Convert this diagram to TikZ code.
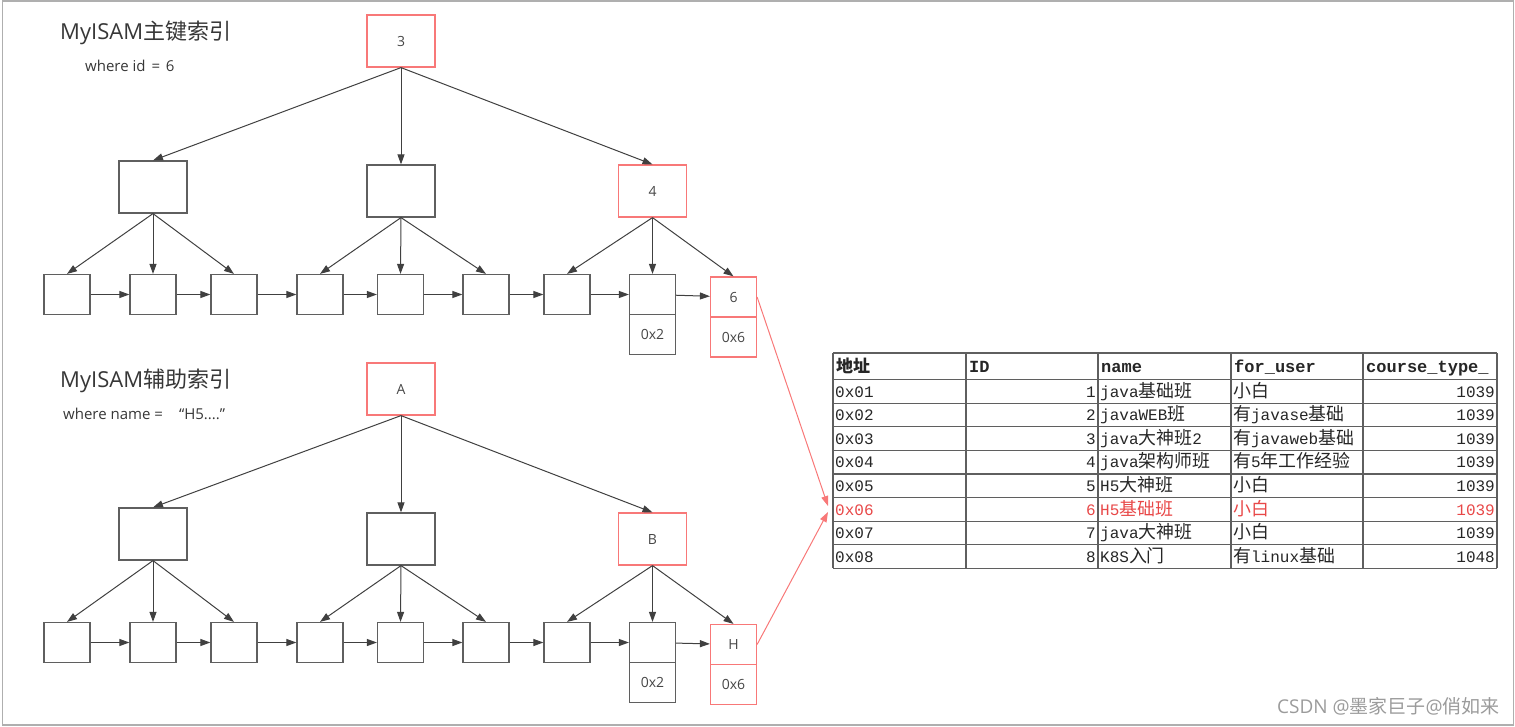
\documentclass[tikz,border=0pt]{standalone}
\usepackage{fontspec}
\setmainfont{Open Sans}
\newfontfamily\cjk{Noto Sans CJK SC}
\newfontfamily\tabmono{Liberation Mono}
\newfontfamily\tabcjk[Scale=1.12]{Noto Sans CJK SC}
\usetikzlibrary{arrows.meta,positioning}

\definecolor{linegray}{RGB}{95,95,95}
\definecolor{arrowgray}{RGB}{64,64,64}
\definecolor{hitred}{RGB}{248,120,120}
\definecolor{rowred}{RGB}{232,72,72}
\definecolor{labelgray}{RGB}{70,70,70}
\definecolor{titlegray}{RGB}{55,55,55}
\definecolor{tabgray}{RGB}{95,95,95}
\definecolor{framegray}{RGB}{175,175,175}
\definecolor{markgray}{RGB}{155,155,155}

\newcommand{\cj}[1]{{\tabcjk #1}}

\tikzset{
  idxbox/.style={draw=linegray, line width=1.2pt, minimum width=68pt, minimum height=52pt,
    inner sep=0pt, text=labelgray, font=\fontsize{14}{16}\selectfont},
  hitbox/.style={idxbox, draw=hitred},
  leafbox/.style={draw=linegray, line width=1.2pt, minimum width=46pt, minimum height=40pt,
    inner sep=0pt, text=labelgray, font=\fontsize{14}{16}\selectfont},
  hitleaf/.style={leafbox, draw=hitred},
  link/.style={draw=arrowgray, line width=1pt, -{Triangle[length=10pt,width=7pt]}},
  hitlink/.style={draw=hitred, line width=1pt, -{Triangle[length=10pt,width=7pt]}},
  title/.style={anchor=west, inner sep=0pt, text=titlegray, font=\fontsize{22}{24}\selectfont},
  cond/.style={anchor=west, inner sep=0pt, text=titlegray, font=\fontsize{15}{17}\selectfont},
  cell/.style={inner sep=0pt, text height=11pt, text depth=3pt, text=black!85,
    font=\fontsize{16}{18}\selectfont\tabmono},
  headcell/.style={cell, anchor=west, font=\fontsize{17}{18}\selectfont\tabmono\bfseries},
  tabline/.style={draw=tabgray, line width=1.2pt}
}

\begin{document}
\begin{tikzpicture}[x=1pt, y=-1pt]
\useasboundingbox (0,0) rectangle (1515,726);

% Frame
\draw[framegray, line width=1.5pt] (2.5,0.75) rectangle (1513.5,725);

% Primary key index
\node[title] (ttlpk) at (60,33) {MyISAM{\cjk 主键索引}};
\node[cond] (condpk) at (85,66) {where id\hspace{2pt} =\hspace{2pt} 6};

\node[hitbox] (p3) at (401,41) {3};
\node[idxbox] (pl) at (153,187) {};
\node[idxbox] (pm) at (401,191) {};
\node[hitbox] (p4) at (652.5,191) {4};

\node[leafbox] (pa1) at (67,294.5) {};
\node[leafbox] (pa2) at (153,294.5) {};
\node[leafbox] (pa3) at (234,294.5) {};
\node[leafbox] (pa4) at (320,294.5) {};
\node[leafbox] (pa5) at (400.5,294.5) {};
\node[leafbox] (pa6) at (486,294.5) {};
\node[leafbox] (pa7) at (567,294.5) {};
\node[leafbox] (pa8) at (652.5,294.5) {};
\node[leafbox, below=-1.2pt of pa8] (pa8r) {0x2};
\node[hitleaf] (pa9) at (733.5,297) {6};
\node[hitleaf, below=-1.2pt of pa9] (pa9r) {0x6};

\draw[link] (p3.south) -- (pl.north);
\draw[link] (p3.south) -- (pm.north);
\draw[link] (p3.south) -- (p4.north);
\draw[link] (pl.south) -- (pa1.north);
\draw[link] (pl.south) -- (pa2.north);
\draw[link] (pl.south) -- (pa3.north);
\draw[link] (pm.south) -- (pa4.north);
\draw[link] (pm.south) -- (pa5.north);
\draw[link] (pm.south) -- (pa6.north);
\draw[link] (p4.south) -- (pa7.north);
\draw[link] (p4.south) -- (pa8.north);
\draw[link] (p4.south) -- (pa9.north);
\draw[link] (pa1) -- (pa2);
\draw[link] (pa2) -- (pa3);
\draw[link] (pa3) -- (pa4);
\draw[link] (pa4) -- (pa5);
\draw[link] (pa5) -- (pa6);
\draw[link] (pa6) -- (pa7);
\draw[link] (pa7) -- (pa8);
\draw[link] (pa8) -- (pa9);

% Secondary index
\node[title] (ttlsk) at (60,381) {MyISAM{\cjk 辅助索引}};
\node[cond] (condsk) at (63,414) {where name =\hspace{16pt}“H5....”};

\node[hitbox] (sA) at (401,389) {A};
\node[idxbox] (sl) at (153,534) {};
\node[idxbox] (sm) at (401,539) {};
\node[hitbox] (sB) at (652.5,539) {B};

\node[leafbox] (sa1) at (67,642.5) {};
\node[leafbox] (sa2) at (153,642.5) {};
\node[leafbox] (sa3) at (234,642.5) {};
\node[leafbox] (sa4) at (320,642.5) {};
\node[leafbox] (sa5) at (400.5,642.5) {};
\node[leafbox] (sa6) at (486,642.5) {};
\node[leafbox] (sa7) at (567,642.5) {};
\node[leafbox] (sa8) at (652.5,642.5) {};
\node[leafbox, below=-1.2pt of sa8] (sa8r) {0x2};
\node[hitleaf] (sa9) at (733.5,644.5) {H};
\node[hitleaf, below=-1.2pt of sa9] (sa9r) {0x6};

\draw[link] (sA.south) -- (sl.north);
\draw[link] (sA.south) -- (sm.north);
\draw[link] (sA.south) -- (sB.north);
\draw[link] (sl.south) -- (sa1.north);
\draw[link] (sl.south) -- (sa2.north);
\draw[link] (sl.south) -- (sa3.north);
\draw[link] (sm.south) -- (sa4.north);
\draw[link] (sm.south) -- (sa5.north);
\draw[link] (sm.south) -- (sa6.north);
\draw[link] (sB.south) -- (sa7.north);
\draw[link] (sB.south) -- (sa8.north);
\draw[link] (sB.south) -- (sa9.north);
\draw[link] (sa1) -- (sa2);
\draw[link] (sa2) -- (sa3);
\draw[link] (sa3) -- (sa4);
\draw[link] (sa4) -- (sa5);
\draw[link] (sa5) -- (sa6);
\draw[link] (sa6) -- (sa7);
\draw[link] (sa7) -- (sa8);
\draw[link] (sa8) -- (sa9);

% Table
\foreach \x in {833,966,1098,1231,1363,1497}
  \draw[tabline] (\x,353) -- (\x,568.3);
\draw[tabline] (833,353) -- (1497,353);
\foreach \r in {0,...,8}
  \draw[tabline] (833,379.5+23.6*\r) -- (1497,379.5+23.6*\r);

\node[headcell] (haddr) at (836,368) {{\cjk\bfseries 地址}};
\node[headcell] (hid) at (969,368) {ID};
\node[headcell] (hnm) at (1101,368) {name};
\node[headcell] (husr) at (1234,368) {for\_user};
\node[headcell] (hct) at (1366,368) {course\_type\_};

\foreach \i/\addr/\nm/\usr/\ct/\col in {
    1/0x01/{java\cj{基础班}}/{\cj{小白}}/1039/black!85,
    2/0x02/{javaWEB\cj{班}}/{\cj{有}javase\cj{基础}}/1039/black!85,
    3/0x03/{java\cj{大神班}2}/{\cj{有}javaweb\cj{基础}}/1039/black!85,
    4/0x04/{java\cj{架构师班}}/{\cj{有}5\cj{年工作经验}}/1039/black!85,
    5/0x05/{H5\cj{大神班}}/{\cj{小白}}/1039/black!85,
    6/0x06/{H5\cj{基础班}}/{\cj{小白}}/1039/rowred,
    7/0x07/{java\cj{大神班}}/{\cj{小白}}/1039/black!85,
    8/0x08/{K8S\cj{入门}}/{\cj{有}linux\cj{基础}}/1048/black!85} {
  \node[cell, anchor=west, text=\col] (addr\i) at (835,379.5+23.6*\i-10) {\addr};
  \node[cell, anchor=east, text=\col] (id\i) at (1096,379.5+23.6*\i-10) {\i};
  \node[cell, anchor=west, text=\col] (nm\i) at (1100,379.5+23.6*\i-10) {\nm};
  \node[cell, anchor=west, text=\col] (usr\i) at (1233,379.5+23.6*\i-10) {\usr};
  \node[cell, anchor=east, text=\col] (ct\i) at (1495,379.5+23.6*\i-10) {\ct};
}

% Lookups into the table
\coordinate (hitA) at (828,506);
\coordinate (hitB) at (828,512);
\draw[hitlink] (pa9.east) -- (hitA);
\draw[hitlink] (sa9.east) -- (hitB);

% Watermark
\node[anchor=east, inner sep=0pt, text=markgray, font=\fontsize{19}{22}\selectfont] (mark) at (1500,706)
  {CSDN @{\cjk 墨家巨子}@{\cjk 俏如来}};
\end{tikzpicture}
\end{document}
